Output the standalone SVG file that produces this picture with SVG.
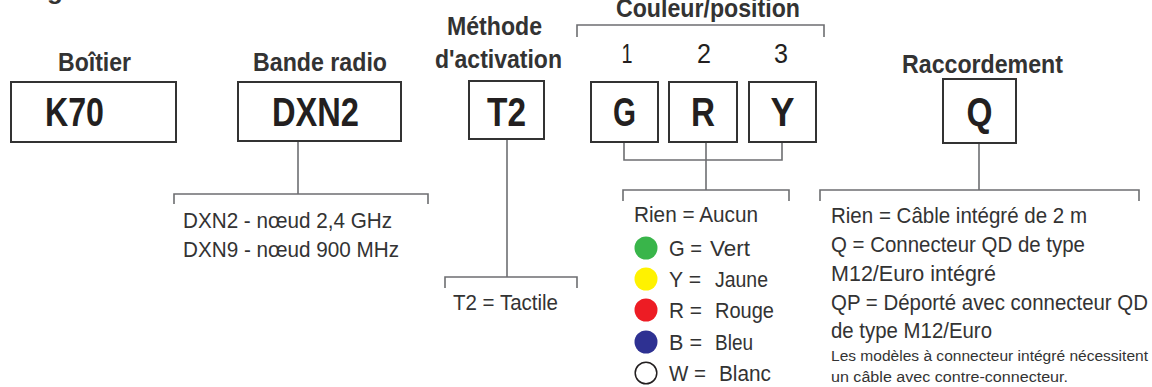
<svg xmlns="http://www.w3.org/2000/svg" width="1152" height="387" viewBox="0 0 1152 387">
  <style>
    .head { font-family: "Liberation Sans", Arial, sans-serif; font-weight: bold; font-size: 26px; fill: #333333; }
    .code { font-family: "Liberation Sans", Arial, sans-serif; font-weight: bold; font-size: 41px; fill: #231f20; text-anchor: middle; }
    .digit { font-family: "Liberation Sans", Arial, sans-serif; font-size: 28px; fill: #231f20; text-anchor: middle; }
    .body { font-family: "Liberation Sans", Arial, sans-serif; font-size: 21.5px; fill: #333333; }
    .note { font-family: "Liberation Sans", Arial, sans-serif; font-size: 15.5px; fill: #333333; }
    .box { fill: #ffffff; stroke: #333333; stroke-width: 2; }
    .wire { fill: none; stroke: #6d6e71; stroke-width: 1.6; }
  </style>

  <!-- descender of the title line above the frame -->
  <text class="head" x="47" y="-1.5">g</text>

  <!-- connectors -->
  <g id="connectors">
    <!-- group bracket over the three colour positions -->
    <path class="wire" d="M577,37 V25 H824 V37"/>
    <!-- DXN2 -> radio band options -->
    <path class="wire" d="M298,141 V194"/>
    <path class="wire" d="M174,204 V194 H428 V204"/>
    <!-- T2 -> activation options -->
    <path class="wire" d="M507,139 V277"/>
    <path class="wire" d="M445,288 V277 H577 V288"/>
    <!-- G/R/Y -> colour options -->
    <path class="wire" d="M624,142 V160 H782 V142"/>
    <path class="wire" d="M706,142 V190"/>
    <path class="wire" d="M623,201 V190 H789 V201"/>
    <!-- Q -> connection options -->
    <path class="wire" d="M979,143 V190"/>
    <path class="wire" d="M820,201 V190 H1139 V201"/>
  </g>

  <!-- housing -->
  <g id="node-housing">
    <text class="head" x="58" y="71" textLength="73" lengthAdjust="spacingAndGlyphs">Boîtier</text>
    <rect class="box" x="11" y="82" width="165" height="60"/>
    <text class="code" x="74.5" y="126" textLength="59" lengthAdjust="spacingAndGlyphs">K70</text>
  </g>

  <!-- radio band -->
  <g id="node-radio">
    <text class="head" x="253" y="71" textLength="134" lengthAdjust="spacingAndGlyphs">Bande radio</text>
    <rect class="box" x="238" y="82" width="163" height="59"/>
    <text class="code" x="315.5" y="126" textLength="87" lengthAdjust="spacingAndGlyphs">DXN2</text>
    <text class="body" x="183" y="228" textLength="209" lengthAdjust="spacingAndGlyphs">DXN2 - nœud 2,4 GHz</text>
    <text class="body" x="183" y="257" textLength="216" lengthAdjust="spacingAndGlyphs">DXN9 - nœud 900 MHz</text>
  </g>

  <!-- activation method -->
  <g id="node-activation">
    <text class="head" x="447" y="35" textLength="95" lengthAdjust="spacingAndGlyphs">Méthode</text>
    <text class="head" x="435" y="68" textLength="127" lengthAdjust="spacingAndGlyphs">d'activation</text>
    <rect class="box" x="469" y="81" width="75" height="58"/>
    <text class="code" x="506.5" y="126" textLength="39" lengthAdjust="spacingAndGlyphs">T2</text>
    <text class="body" x="453" y="310" textLength="105" lengthAdjust="spacingAndGlyphs">T2 = Tactile</text>
  </g>

  <!-- colour / position -->
  <g id="node-colour">
    <text class="head" x="616" y="17" textLength="184" lengthAdjust="spacingAndGlyphs">Couleur/position</text>
    <text class="digit" x="627" y="63" textLength="11" lengthAdjust="spacingAndGlyphs">1</text>
    <text class="digit" x="704" y="63" textLength="14" lengthAdjust="spacingAndGlyphs">2</text>
    <text class="digit" x="781" y="63" textLength="14" lengthAdjust="spacingAndGlyphs">3</text>
    <rect class="box" x="591" y="82" width="67" height="60"/>
    <rect class="box" x="669" y="82" width="68" height="60"/>
    <rect class="box" x="749" y="82" width="67" height="60"/>
    <text class="code" x="624.5" y="126" textLength="23" lengthAdjust="spacingAndGlyphs">G</text>
    <text class="code" x="703" y="126" textLength="24" lengthAdjust="spacingAndGlyphs">R</text>
    <text class="code" x="782.5" y="126" textLength="24" lengthAdjust="spacingAndGlyphs">Y</text>
    <text class="body" x="634" y="222" textLength="124" lengthAdjust="spacingAndGlyphs">Rien = Aucun</text>
    <circle cx="646" cy="248" r="11.5" fill="#39b54a"/>
    <circle cx="646" cy="279" r="11.5" fill="#fff200"/>
    <circle cx="646" cy="310" r="11.5" fill="#ed1c24"/>
    <circle cx="646" cy="342" r="11.5" fill="#2e3192"/>
    <circle cx="646" cy="373" r="10.8" fill="#ffffff" stroke="#231f20" stroke-width="1.5"/>
    <text class="body" y="256"><tspan x="669" textLength="33" lengthAdjust="spacingAndGlyphs">G =</tspan><tspan x="710" textLength="40" lengthAdjust="spacingAndGlyphs">Vert</tspan></text>
    <text class="body" y="287"><tspan x="669" textLength="32" lengthAdjust="spacingAndGlyphs">Y =</tspan><tspan x="715" textLength="53" lengthAdjust="spacingAndGlyphs">Jaune</tspan></text>
    <text class="body" y="318"><tspan x="669" textLength="33" lengthAdjust="spacingAndGlyphs">R =</tspan><tspan x="715" textLength="59" lengthAdjust="spacingAndGlyphs">Rouge</tspan></text>
    <text class="body" y="350"><tspan x="669" textLength="33" lengthAdjust="spacingAndGlyphs">B =</tspan><tspan x="715" textLength="38" lengthAdjust="spacingAndGlyphs">Bleu</tspan></text>
    <text class="body" y="381"><tspan x="669" textLength="37" lengthAdjust="spacingAndGlyphs">W =</tspan><tspan x="719" textLength="52" lengthAdjust="spacingAndGlyphs">Blanc</tspan></text>
  </g>

  <!-- connection -->
  <g id="node-connection">
    <text class="head" x="902" y="73" textLength="161" lengthAdjust="spacingAndGlyphs">Raccordement</text>
    <rect class="box" x="943" y="79" width="73" height="64"/>
    <text class="code" x="979.5" y="126" textLength="26" lengthAdjust="spacingAndGlyphs">Q</text>
    <text class="body" x="831" y="223" textLength="256" lengthAdjust="spacingAndGlyphs">Rien = Câble intégré de 2 m</text>
    <text class="body" x="831" y="252" textLength="254" lengthAdjust="spacingAndGlyphs">Q = Connecteur QD de type</text>
    <text class="body" x="831" y="281" textLength="165" lengthAdjust="spacingAndGlyphs">M12/Euro intégré</text>
    <text class="body" x="831" y="310" textLength="317" lengthAdjust="spacingAndGlyphs">QP = Déporté avec connecteur QD</text>
    <text class="body" x="831" y="338" textLength="161" lengthAdjust="spacingAndGlyphs">de type M12/Euro</text>
    <text class="note" x="831" y="361" textLength="317" lengthAdjust="spacingAndGlyphs">Les modèles à connecteur intégré nécessitent</text>
    <text class="note" x="831" y="382" textLength="237" lengthAdjust="spacingAndGlyphs">un câble avec contre-connecteur.</text>
  </g>
</svg>
